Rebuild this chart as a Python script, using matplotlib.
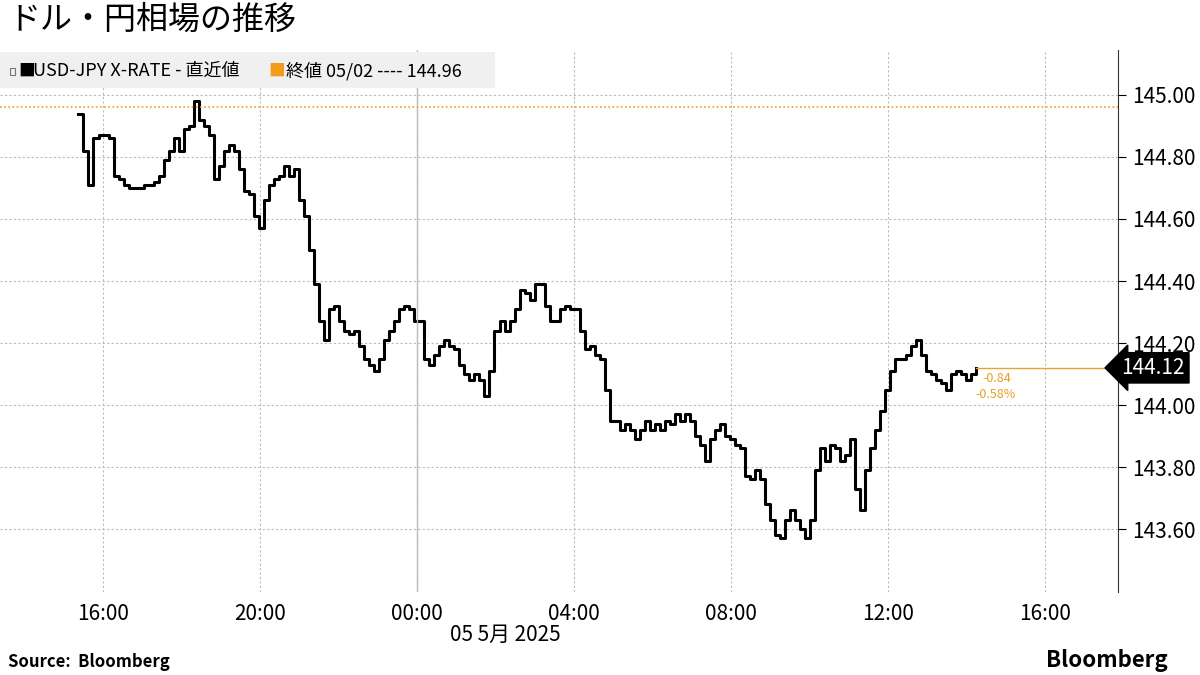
import matplotlib
matplotlib.use("Agg")
import matplotlib.pyplot as plt
import matplotlib.dates as mdates
import pandas as pd

plt.rcParams['font.family'] = ['Noto Sans CJK JP', 'DejaVu Sans']

prices = [144.94,144.82,144.71,144.86,144.87,144.87,144.86,144.74,144.73,144.71,144.70,144.70,
          144.70,144.71,144.71,144.72,144.74,144.79,144.82,144.86,144.82,144.89,144.90,144.98,
          144.92,144.90,144.87,144.73,144.77,144.82,144.84,144.82,144.76,144.69,144.68,144.61,
          144.57,144.66,144.71,144.73,144.74,144.77,144.74,144.76,144.66,144.61,144.50,144.39,
          144.27,144.21,144.31,144.32,144.27,144.24,144.23,144.24,144.19,144.15,144.13,144.11,
          144.15,144.21,144.24,144.27,144.31,144.32,144.31,144.27,144.27,144.15,144.13,144.16,
          144.19,144.21,144.19,144.18,144.13,144.10,144.08,144.10,144.08,144.03,144.11,144.24,
          144.27,144.24,144.27,144.31,144.37,144.36,144.34,144.39,144.39,144.32,144.27,144.27,
          144.31,144.32,144.31,144.31,144.24,144.18,144.19,144.16,144.15,144.05,143.95,143.95,
          143.92,143.94,143.92,143.89,143.92,143.95,143.92,143.94,143.92,143.95,143.94,143.97,
          143.95,143.97,143.95,143.90,143.87,143.82,143.89,143.92,143.94,143.90,143.89,143.87,
          143.86,143.77,143.76,143.79,143.76,143.68,143.63,143.58,143.57,143.63,143.66,143.63,
          143.60,143.57,143.63,143.79,143.86,143.82,143.87,143.86,143.82,143.84,143.89,143.73,
          143.66,143.79,143.86,143.92,143.98,144.05,144.11,144.15,144.15,144.16,144.19,144.21,
          144.16,144.11,144.10,144.08,144.07,144.05,144.10,144.11,144.10,144.08,144.10,144.12]
start = "2025-05-04 15:22"
prev_close = 144.96
last = 144.12
chg, chg_pct = "-0.84", "-0.58%"
yticks = [143.60, 143.80, 144.00, 144.20, 144.40, 144.60, 144.80, 145.00]

times = pd.date_range(start, periods=len(prices), freq="460s")

fig = plt.figure(figsize=(12, 6.75), dpi=100)
ax = fig.add_axes([0.0, 1 - 592/675, 1118/1200, (592-50)/675])
ax.step(times, prices, where="post", color="black", lw=2.2)
ax.axhline(prev_close, color="#f29d1a", lw=1.2, ls=(0, (1, 1.5)))
ax.plot([times[-1], pd.Timestamp("2025-05-05 18:00")], [last, last], color="#f0a030", lw=1)

ax.set_xlim(pd.Timestamp("2025-05-04 13:22"), pd.Timestamp("2025-05-05 17:52"))
ax.set_ylim(143.397, 145.145)
ax.yaxis.tick_right()
ax.set_yticks(yticks)
ax.set_yticklabels([f"{v:.2f}" for v in yticks], fontsize=15)
ax.xaxis.set_major_locator(mdates.HourLocator(byhour=[0, 4, 8, 12, 16, 20]))
ax.xaxis.set_major_formatter(mdates.DateFormatter("%H:%M"))
ax.tick_params(axis="x", labelsize=15, length=0, pad=8)
ax.tick_params(axis="y", length=6, direction="out", pad=4)
for s in ["top", "left", "bottom"]:
    ax.spines[s].set_visible(False)
ax.spines["right"].set_color("#333333")
ax.grid(True, color="#bbbbbb", ls=(0, (2, 2)), lw=0.8)
ax.axvline(pd.Timestamp("2025-05-05 00:00"), color="#bbbbbb", lw=1)

ax.text(1.003, (last-143.397)/(145.145-143.397), f"{last:.2f}", transform=ax.transAxes,
        fontsize=15, color="white", va="center", ha="left",
        bbox=dict(boxstyle="larrow,pad=0.2", fc="black", ec="black"))
ax.text(times[-1] + pd.Timedelta(minutes=10), last - 0.012, chg, color="#e8a020", fontsize=9, va="top")
ax.text(times[-1], last - 0.065, chg_pct, color="#e8a020", fontsize=9, va="top")

fig.text(505/1200, 1 - 635/675, "05 5月 2025", fontsize=15, ha="center", va="center")
fig.text(8/1200, 1 - 20/675, "ドル・円相場の推移", fontsize=23, va="center")
fig.patches.append(plt.Rectangle((0, 1 - 88/675), 495/1200, 36/675, transform=fig.transFigure,
                                 fc="#f0f0f0", ec="none", zorder=0))
fig.patches.append(plt.Rectangle((10/1200, 1 - 75/675), 5/1200, 7/675, transform=fig.transFigure,
                                 fc="none", ec="#777777", lw=0.8))
fig.text(18/1200, 1 - 71/675, "■", fontsize=12, va="center", color="black")
fig.text(33/1200, 1 - 71/675, "USD-JPY X-RATE - 直近値", fontsize=13, va="center")
fig.text(268/1200, 1 - 71/675, "■", fontsize=12, va="center", color="#f29d1a")
fig.text(286/1200, 1 - 71/675, "終値 05/02 ---- 144.96", fontsize=13, va="center")
fig.text(8/1200, 1 - 662/675, "Source:  Bloomberg", fontsize=12, fontweight="bold", va="center")
fig.text(1168/1200, 1 - 660/675, "Bloomberg", fontsize=16, fontweight="bold", va="center", ha="right")
fig.savefig("out.png", dpi=100)
